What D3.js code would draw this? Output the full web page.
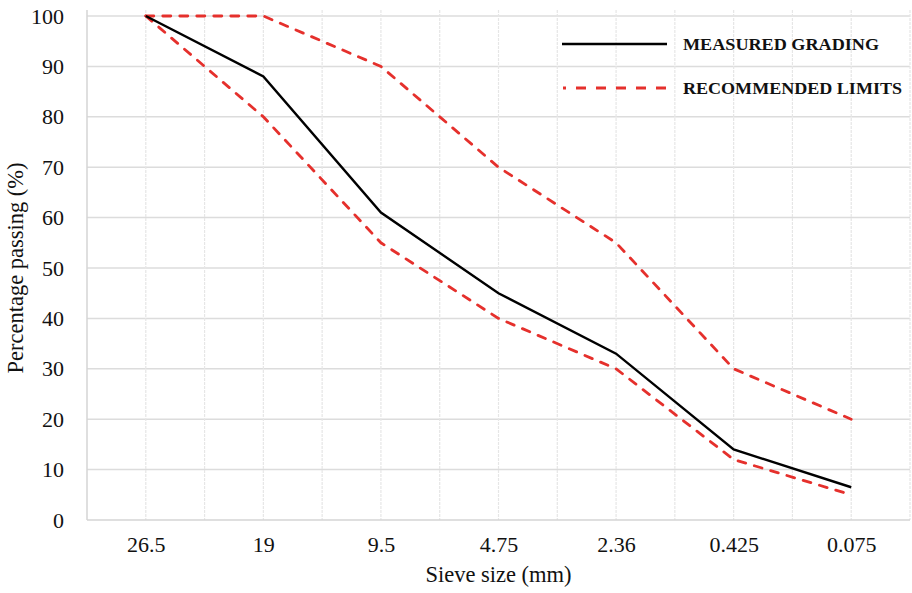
<!DOCTYPE html>
<html>
<head>
<meta charset="utf-8">
<script src="https://cdn.jsdelivr.net/npm/d3@7/dist/d3.min.js"></script>
<style>
  html, body { margin: 0; padding: 0; background: #fff; }
  svg { display: block; }
</style>
</head>
<body>
<svg id="chart" width="912" height="593"></svg>
<script>
// Sieve sizes (mm) and percentage passing
const sieveSizes = ["26.5", "19", "9.5", "4.75", "2.36", "0.425", "0.075"];
const measuredGrading = [100, 88, 61, 45, 33, 14, 6.5];
const upperLimit = [100, 100, 90, 70, 55, 30, 20];
const lowerLimit = [100, 80, 55, 40, 30, 12, 5];
const yTicks = [0, 10, 20, 30, 40, 50, 60, 70, 80, 90, 100];

const svg = d3.select("#chart");
const plotLeft = 87, plotRight = 910, plotTop = 16, plotBottom = 520, gridTop = 10;
const serif = "'Liberation Serif', 'Times New Roman', serif";
const labelSize = 22;

const x = d3.scalePoint().domain(sieveSizes).range([plotLeft, plotRight]).padding(0.5);
const band = d3.scaleBand().domain(sieveSizes).range([plotLeft, plotRight]);
const y = d3.scaleLinear().domain([0, 100]).range([plotBottom, plotTop]);

// Horizontal gridlines
svg.append("g").selectAll("line").data(yTicks.filter(d => d > 0)).join("line")
  .attr("x1", plotLeft).attr("x2", plotRight)
  .attr("y1", d => y(d)).attr("y2", d => y(d))
  .attr("stroke", "#dcdcdc").attr("stroke-width", 1.5);

// Vertical gridlines at band edges and category centres
const vx = [];
sieveSizes.forEach(s => { vx.push(band(s)); vx.push(x(s)); });
vx.push(band(sieveSizes[sieveSizes.length - 1]) + band.bandwidth());
svg.append("g").selectAll("line").data(vx.slice(1)).join("line")
  .attr("x1", d => d).attr("x2", d => d)
  .attr("y1", gridTop).attr("y2", plotBottom)
  .attr("stroke", "#e6e6e6").attr("stroke-width", 1.2)
  .attr("stroke-dasharray", "3,1");

// Axis lines
svg.append("line").attr("x1", plotLeft).attr("x2", plotLeft).attr("y1", gridTop).attr("y2", plotBottom)
  .attr("stroke", "#d4d4d4").attr("stroke-width", 1.5);
svg.append("line").attr("x1", plotLeft).attr("x2", plotRight).attr("y1", plotBottom).attr("y2", plotBottom)
  .attr("stroke", "#d4d4d4").attr("stroke-width", 1.5);

// Y axis labels
const yAxis = d3.axisLeft(y).tickValues(yTicks).tickSize(0).tickPadding(23);
const gy = svg.append("g").attr("transform", `translate(${plotLeft},0)`).call(yAxis);
gy.select(".domain").remove();
gy.selectAll("text").attr("font-family", serif).attr("font-size", labelSize).attr("fill", "#111");

// X axis labels
const xAxis = d3.axisBottom(x).tickSize(0).tickPadding(16);
const gx = svg.append("g").attr("transform", `translate(0,${plotBottom})`).call(xAxis);
gx.select(".domain").remove();
gx.selectAll("text").attr("font-family", serif).attr("font-size", labelSize).attr("fill", "#111");

// Axis titles
svg.append("text").attr("x", x("4.75")).attr("y", 582)
  .attr("text-anchor", "middle").attr("font-family", serif).attr("font-size", 22.5)
  .attr("fill", "#111").text("Sieve size (mm)");
svg.append("text").attr("transform", `translate(23,${(plotTop + plotBottom) / 2}) rotate(-90)`)
  .attr("text-anchor", "middle").attr("font-family", serif).attr("font-size", 22.5)
  .attr("fill", "#111").text("Percentage passing (%)");

// Series
const line = d3.line().x((d, i) => x(sieveSizes[i])).y(d => y(d));
const red = "#e5302c";
[upperLimit, lowerLimit].forEach(series => {
  svg.append("path").datum(series).attr("d", line)
    .attr("fill", "none").attr("stroke", red).attr("stroke-width", 2.8)
    .attr("stroke-linecap", "round").attr("stroke-dasharray", "8,9");
});
svg.append("path").datum(measuredGrading).attr("d", line)
  .attr("fill", "none").attr("stroke", "#000").attr("stroke-width", 2.4);

// Legend
const legend = svg.append("g");
legend.append("line").attr("x1", 562).attr("x2", 667).attr("y1", 44).attr("y2", 44)
  .attr("stroke", "#000").attr("stroke-width", 2.6);
legend.append("line").attr("x1", 563).attr("x2", 667).attr("y1", 88).attr("y2", 88)
  .attr("stroke", red).attr("stroke-width", 2.8)
  .attr("stroke-dasharray", "10,10").attr("stroke-dashoffset", 7);
legend.append("text").attr("x", 683).attr("y", 50)
  .attr("font-family", serif).attr("font-weight", "bold").attr("font-size", 16)
  .attr("fill", "#111").attr("textLength", 196).attr("lengthAdjust", "spacingAndGlyphs")
  .text("MEASURED GRADING");
legend.append("text").attr("x", 683).attr("y", 94)
  .attr("font-family", serif).attr("font-weight", "bold").attr("font-size", 16)
  .attr("fill", "#111").attr("textLength", 219).attr("lengthAdjust", "spacingAndGlyphs")
  .text("RECOMMENDED LIMITS");
</script>
</body>
</html>
